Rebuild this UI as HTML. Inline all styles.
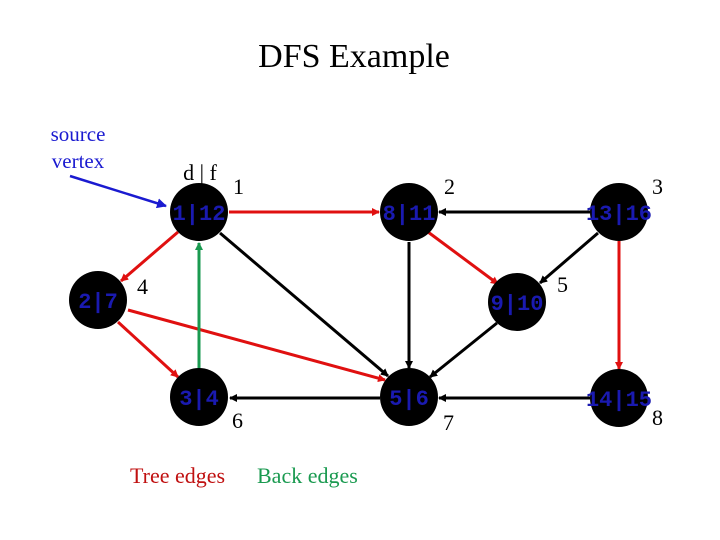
<!DOCTYPE html>
<html><head><style>
body{margin:0;background:#fff;}
svg{display:block;}
.t{font-family:"Liberation Serif",serif;fill:#000;}
.n{font-family:"Liberation Mono",monospace;font-weight:bold;font-size:22px;fill:#1a1ab0;text-anchor:middle;}
</style></head><body>
<svg width="720" height="540" viewBox="0 0 720 540">
<defs>
<marker id="ar" markerWidth="8" markerHeight="8" refX="7" refY="4" orient="auto" markerUnits="userSpaceOnUse"><path d="M0,0 L8,4 L0,8 z" fill="#e01010"/></marker>
<marker id="ak" markerWidth="8" markerHeight="8" refX="7" refY="4" orient="auto" markerUnits="userSpaceOnUse"><path d="M0,0 L8,4 L0,8 z" fill="#000"/></marker>
<marker id="ag" markerWidth="8" markerHeight="8" refX="7" refY="4" orient="auto" markerUnits="userSpaceOnUse"><path d="M0,0 L8,4 L0,8 z" fill="#1a9a50"/></marker>
<marker id="ab" markerWidth="10" markerHeight="10" refX="9" refY="5" orient="auto" markerUnits="userSpaceOnUse"><path d="M0,0 L10,5 L0,10 z" fill="#1a1ad0"/></marker>
</defs>
<text x="354" y="67" class="t" font-size="34" text-anchor="middle">DFS Example</text>
<text x="78" y="141" class="t" font-size="21" fill="#1a1ad0" style="fill:#1a1ad0" text-anchor="middle">source</text>
<text x="78" y="168" class="t" font-size="21" style="fill:#1a1ad0" text-anchor="middle">vertex</text>
<line x1="70" y1="176" x2="166" y2="206" stroke="#1a1ad0" stroke-width="2.5" marker-end="url(#ab)"/>
<text x="200" y="180" class="t" font-size="22" text-anchor="middle">d | f</text>
<line x1="200" y1="184" x2="200" y2="195" stroke="#000" stroke-width="2"/>
<g stroke-width="3" fill="none">
<line x1="229" y1="212" x2="379" y2="212" stroke="#e01010" marker-end="url(#ar)"/>
<line x1="178" y1="232" x2="121" y2="281" stroke="#e01010" marker-end="url(#ar)"/>
<line x1="118" y1="322" x2="178" y2="377" stroke="#e01010" marker-end="url(#ar)"/>
<line x1="128" y1="310" x2="385" y2="380" stroke="#e01010" marker-end="url(#ar)"/>
<line x1="199" y1="371" x2="199" y2="243" stroke="#1a9a50" marker-end="url(#ag)"/>
<line x1="220" y1="233" x2="388" y2="376" stroke="#000" marker-end="url(#ak)"/>
<line x1="380" y1="398" x2="230" y2="398" stroke="#000" marker-end="url(#ak)"/>
<line x1="409" y1="242" x2="409" y2="368" stroke="#000" marker-end="url(#ak)"/>
<line x1="428" y1="232" x2="498" y2="284" stroke="#e01010" marker-end="url(#ar)"/>
<line x1="497" y1="323" x2="430" y2="377" stroke="#000" marker-end="url(#ak)"/>
<line x1="590" y1="212" x2="439" y2="212" stroke="#000" marker-end="url(#ak)"/>
<line x1="598" y1="233" x2="540" y2="283" stroke="#000" marker-end="url(#ak)"/>
<line x1="619" y1="241" x2="619" y2="369" stroke="#e01010" marker-end="url(#ar)"/>
<line x1="590" y1="398" x2="439" y2="398" stroke="#000" marker-end="url(#ak)"/>
</g>
<g fill="#000">
<circle cx="199" cy="212" r="29"/><circle cx="409" cy="212" r="29"/><circle cx="619" cy="212" r="29"/>
<circle cx="98" cy="300" r="29"/><circle cx="517" cy="302" r="29"/>
<circle cx="199" cy="397" r="29"/><circle cx="409" cy="397" r="29"/><circle cx="619" cy="398" r="29"/>
</g>
<text x="199" y="220" class="n">1|12</text>
<text x="409" y="220" class="n">8|11</text>
<text x="619" y="220" class="n">13|16</text>
<text x="98" y="308" class="n">2|7</text>
<text x="517" y="310" class="n">9|10</text>
<text x="199" y="405" class="n">3|4</text>
<text x="409" y="405" class="n">5|6</text>
<text x="619" y="406" class="n">14|15</text>
<g class="t" font-size="22">
<text x="233" y="194">1</text><text x="444" y="194">2</text><text x="652" y="194">3</text>
<text x="137" y="294">4</text><text x="557" y="292">5</text>
<text x="232" y="428">6</text><text x="443" y="430">7</text><text x="652" y="425">8</text>
</g>
<text x="130" y="483" class="t" font-size="22" style="fill:#c01010">Tree edges</text>
<text x="257" y="483" class="t" font-size="22" style="fill:#1a9a50">Back edges</text>
</svg>
</body></html>
